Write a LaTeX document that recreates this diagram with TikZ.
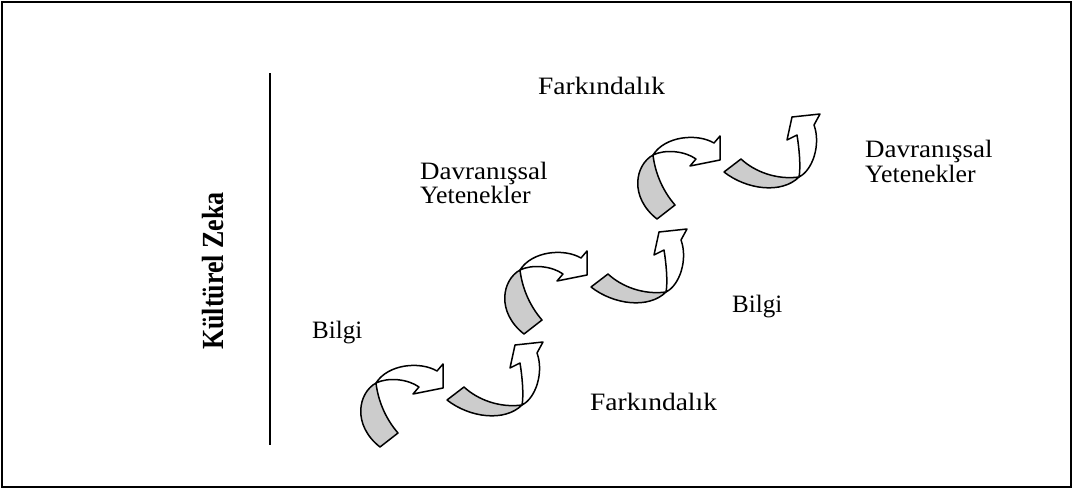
\documentclass[tikz,border=0pt]{standalone}
\usepackage{fontspec}
\setmainfont{Liberation Serif}
\usepackage{graphicx}
\tikzset{
  ribbon/.style={draw=black, line width=1.5pt, line join=round},
  backside/.style={ribbon, fill=black!20},
  frontside/.style={ribbon, fill=white},
  lbl/.style={inner sep=0pt, anchor=base west, font=\fontsize{25}{28}\selectfont},
  twistpair/.pic={
    % first arrow: twisted ribbon, tail at the bottom, head to the right
    \path[backside] (0,0) .. controls (-18,10) and (-24,42) .. (4,64) -- (22,50)
          .. controls (9,35) and (2,17) .. (0,0) -- cycle;
    \path[frontside] (0,0) .. controls (12,-19) and (44,-22) .. (61,-12) -- (67,-19) -- (67,5)
          -- (37,11) -- (43,4) .. controls (32,-4) and (12,-6) .. (0,0) -- cycle;
    % second arrow: twisted ribbon, tail at the left, head upwards
    \path[backside] (71,17) .. controls (94,35) and (129,39) .. (146,22)
          .. controls (124,25) and (102,17) .. (88,4) -- cycle;
    \path[frontside] (146,22) .. controls (160,15) and (168,-11) .. (161,-30) -- (167,-41)
          -- (139,-38) -- (134,-15) -- (144,-20) .. controls (146,-8) and (148,12) .. (146,22) -- cycle;
  }
}
\begin{document}
\begin{tikzpicture}[x=1pt, y=-1pt]
\useasboundingbox (0,0) rectangle (1074,490);
\draw[line width=2pt] (2,2) rectangle (1071,487);
% axis
\coordinate (axtop) at (270,73);
\coordinate (axbot) at (270,445);
\draw[line width=2pt] (axtop) -- (axbot);
\node[inner sep=0pt, anchor=base, rotate=90, font=\fontsize{26}{30}\selectfont\bfseries] (kz) at (223,271) {\scalebox{1}[1.18]{Kültürel Zeka}};
% arrows
\pic at (376,383) {twistpair};
\pic at (520,270) {twistpair};
\pic at (653,155) {twistpair};
% labels
\node[lbl] (bilgi1) at (312,338) {Bilgi};
\node[lbl] (fark1) at (590,410) {\scalebox{1.1}[1]{Farkındalık}};
\node[lbl] (bilgi2) at (732,312) {Bilgi};
\node[lbl] (dav1) at (420,179) {\scalebox{1.08}[1]{Davranışsal}};
\node[lbl] (yet1) at (420,203) {\scalebox{1.03}[1]{Yetenekler}};
\node[lbl] (fark2) at (538,94) {\scalebox{1.1}[1]{Farkındalık}};
\node[lbl] (dav2) at (865,157) {\scalebox{1.08}[1]{Davranışsal}};
\node[lbl] (yet2) at (865,182) {\scalebox{1.03}[1]{Yetenekler}};
\end{tikzpicture}
\end{document}
